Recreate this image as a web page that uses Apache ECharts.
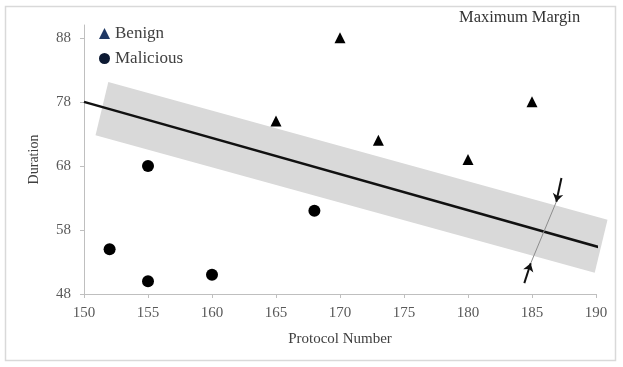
<!DOCTYPE html>
<html><head><meta charset="utf-8">
<script src="https://cdn.jsdelivr.net/npm/echarts@6/dist/echarts.min.js"></script>
<style>html,body{margin:0;padding:0;background:#fff}#c{width:623px;height:367px}</style>
</head><body><div id="c"></div>
<script>
var benign = [[165,75],[170,88],[173,72],[180,69],[185,78]];
var malicious = [[152,55],[155,50],[155,68],[160,51],[168,61]];
var hyperplane = [[150,78],[190.8,55]];
var marginBand = [[151.9,81.1],[190.9,59.6],[189.9,51.3],[150.9,72.8]];
var arrowTop = [[187.3,66.1],[186.9,62.4]];
var arrowBottom = [[184.4,49.7],[184.9,52.8]];
var connector = [[184.9,52.8],[186.9,62.4]];
var xTicks = [150,155,160,165,170,175,180,185,190];
var yTicks = [48,58,68,78,88];

var F = 'Liberation Serif';
var chart = echarts.init(document.getElementById('c'));
chart.setOption({
  animation:false,
  backgroundColor:'#fff',
  graphic:[{type:'rect',shape:{x:5.5,y:6.5,width:610,height:354},style:{fill:'none',stroke:'#d9d9d9',lineWidth:1.5},silent:true},
    {type:'text',left:459,top:9,style:{text:'Maximum Margin',font:'16.5px "Liberation Serif"',fill:'#333'}}],
  legend:{orient:'vertical',left:94,top:20,itemGap:8,itemWidth:11,itemHeight:11,
    textStyle:{fontFamily:F,fontSize:17,color:'#404040'},
    data:[{name:'Benign',icon:'triangle',itemStyle:{color:'#1f3864',opacity:1}},{name:'Malicious',icon:'circle',itemStyle:{color:'#0d1a33',opacity:1}}]},
  grid:{left:84,right:27,top:25,bottom:73},
  xAxis:{type:'value',min:xTicks[0],max:xTicks[xTicks.length-1],interval:5,
    name:'Protocol Number',nameLocation:'middle',nameGap:38,
    nameTextStyle:{fontFamily:F,fontSize:15,color:'#404040'},
    axisLine:{lineStyle:{color:'#bfbfbf'}},axisTick:{show:true,length:4,lineStyle:{color:'#bfbfbf'}},
    splitLine:{show:false},
    axisLabel:{fontFamily:F,fontSize:15,color:'#595959',margin:12}},
  yAxis:{type:'value',min:yTicks[0],max:90,interval:10,
    name:'Duration',nameLocation:'middle',nameGap:43,nameRotate:90,
    nameTextStyle:{fontFamily:F,fontSize:14,color:'#404040'},
    axisLine:{show:true,lineStyle:{color:'#bfbfbf'}},axisTick:{show:true,length:4,lineStyle:{color:'#bfbfbf'}},
    splitLine:{show:false},
    axisLabel:{fontFamily:F,fontSize:15,color:'#595959',margin:13,showMaxLabel:false,
      formatter:function(v){return yTicks.indexOf(v)>=0?String(v):'';}}},
  series:[
    {type:'custom',name:'band',silent:true,z:1,
      renderItem:function(params,api){
        if(params.dataIndex!==0) return;
        var pts = marginBand.map(function(p){return api.coord(p);});
        return {type:'polygon',shape:{points:pts},style:{fill:'#d9d9d9'}};
      },
      data:[0]},
    {type:'line',name:'hyperplane',data:hyperplane,symbol:'none',z:3,
      lineStyle:{color:'#111',width:2.5}},
    {type:'lines',coordinateSystem:'cartesian2d',z:4,symbol:['none','none'],
      lineStyle:{color:'#8c8c8c',width:1,opacity:1},
      data:[{coords:connector}]},
    {type:'lines',coordinateSystem:'cartesian2d',z:5,symbol:['none','arrow'],symbolSize:8,
      lineStyle:{color:'#111',width:2,opacity:1},
      data:[{coords:arrowTop},{coords:arrowBottom}]},
    {type:'scatter',name:'Benign',data:benign,symbol:'triangle',symbolSize:11,z:6,
      itemStyle:{color:'#000',opacity:1}},
    {type:'scatter',name:'Malicious',data:malicious,symbol:'circle',symbolSize:12,z:6,
      itemStyle:{color:'#000',opacity:1}}
  ]
});
</script></body></html>
